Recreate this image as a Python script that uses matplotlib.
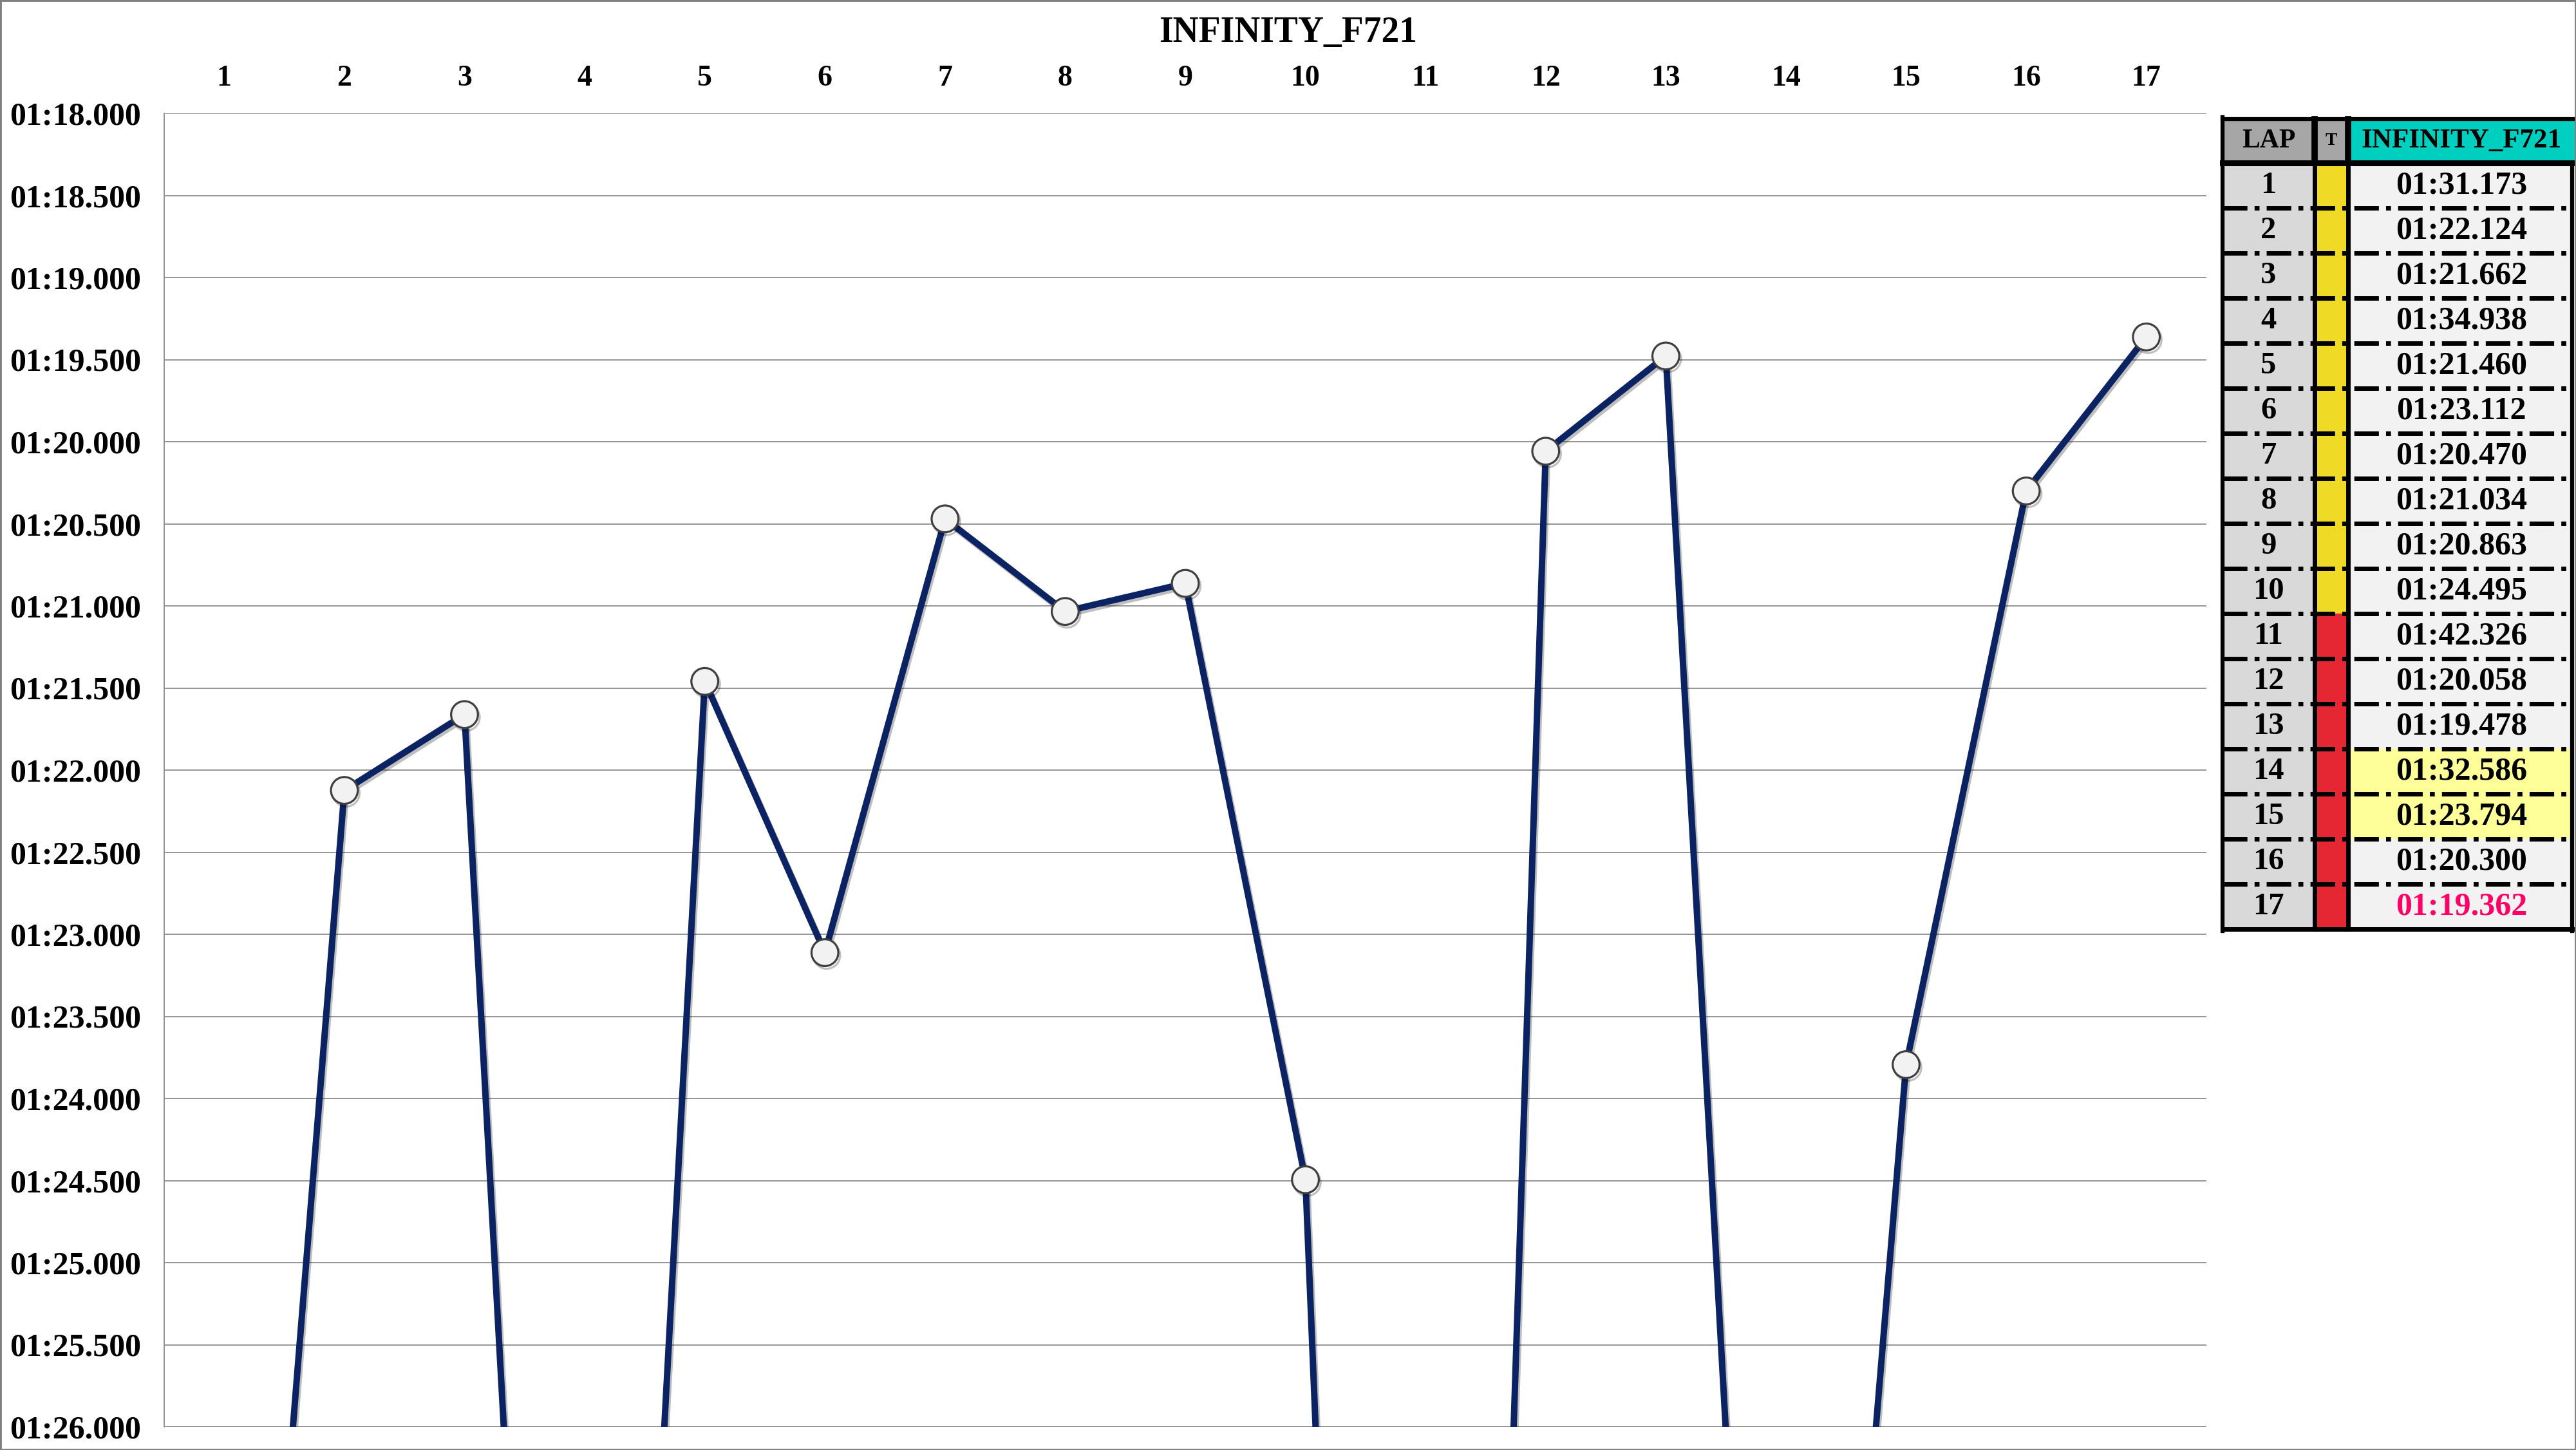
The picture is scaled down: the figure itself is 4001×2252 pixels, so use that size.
import matplotlib
matplotlib.use('Agg')
import matplotlib.pyplot as plt
import matplotlib.patheffects as pe
from matplotlib.patches import Rectangle
from matplotlib.ticker import FuncFormatter, MultipleLocator

# ----------------------------- DATOS -----------------------------

piloto = 'INFINITY_F721'
vueltas = [1, 2, 3, 4, 5, 6, 7, 8, 9, 10, 11, 12, 13, 14, 15, 16, 17]
tiempos = ['01:31.173', '01:22.124', '01:21.662', '01:34.938', '01:21.460',
           '01:23.112', '01:20.470', '01:21.034', '01:20.863', '01:24.495',
           '01:42.326', '01:20.058', '01:19.478', '01:32.586', '01:23.794',
           '01:20.300', '01:19.362']
neumaticos = ['M'] * 10 + ['S'] * 7          # amarillo = medio, rojo = blando
vueltas_marcadas = [14, 15]                  # celdas resaltadas en amarillo claro
mejor_vuelta = 17

colores_neumatico = {'M': '#efdb25', 'S': '#e52733'}


def a_segundos(t):
    m, s = t.split(':')
    return int(m) * 60 + float(s)


def formato_tiempo(v, pos=None):
    m = int(v // 60)
    return f'{m:02d}:{v - 60 * m:06.3f}'


segundos = [a_segundos(t) for t in tiempos]

# ----------------------------- FIGURA -----------------------------

plt.rcParams['font.family'] = ['Liberation Serif', 'DejaVu Serif']
plt.rcParams['font.weight'] = 'bold'

W, H = 4001, 2252
fig = plt.figure(figsize=(W / 100, H / 100), dpi=100)
fig.patch.set_facecolor('white')

# marco gris de toda la imagen
fig.patches.append(Rectangle((0, 0), 1, 1, transform=fig.transFigure, fill=False,
                             edgecolor='#808080', linewidth=3.5))

# area del grafico (en pixeles: x 255-3427, y 176-2216)
ax = fig.add_axes([255 / W, 1 - 2216 / H, (3427 - 255) / W, (2216 - 176) / H])
ax.set_xlim(0.5, 17.5)
ax.set_ylim(86, 78)
ax.yaxis.set_major_locator(MultipleLocator(0.5))
ax.yaxis.set_major_formatter(FuncFormatter(formato_tiempo))
ax.set_xticks(vueltas)
ax.tick_params(axis='x', top=True, labeltop=True, bottom=False, labelbottom=False,
               length=0, pad=24, labelsize=33)
ax.tick_params(axis='y', length=0, pad=26, labelsize=36)
ax.yaxis.grid(True, color='#8c8c8c', linewidth=1.3)
ax.set_axisbelow(True)
for lado in ['top', 'right', 'bottom']:
    ax.spines[lado].set_visible(False)
ax.spines['left'].set_color('#8c8c8c')
ax.spines['left'].set_linewidth(1.3)

sombra = [pe.SimpleLineShadow(offset=(2, -3), alpha=0.25), pe.Normal()]
ax.plot(vueltas, segundos, color='#0b2263', linewidth=7.2, zorder=3,
        solid_joinstyle='round', path_effects=sombra)
ax.plot(vueltas, segundos, linestyle='none', marker='o', markersize=30,
        markerfacecolor='#f2f2f2', markeredgecolor='#3f3f3f', markeredgewidth=2.3,
        zorder=4, path_effects=sombra)

fig.text(0.5, 1 - 51 / H, piloto, ha='center', va='center', fontsize=40, weight='bold')

# ----------------------------- TABLA -----------------------------

tab = fig.add_axes([0, 0, 1, 1])
tab.set_xlim(0, W)
tab.set_ylim(H, 0)
tab.axis('off')

xL, xLT, xTT, xR = 3452, 3595, 3647, 3995
yTop, yHB, fila = 185, 252.5, 70
yBot = yHB + fila * len(vueltas)

# cabecera
tab.add_patch(Rectangle((xL, yTop), xLT - xL, yHB - yTop, color='#a6a6a6'))
tab.add_patch(Rectangle((xLT, yTop), xTT - xLT, yHB - yTop, color='#a6a6a6'))
tab.add_patch(Rectangle((xTT, yTop), W - xTT, yHB - yTop, color='#00cfc0'))
yc = (yTop + yHB) / 2
tab.text((xL + xLT) / 2, yc, 'LAP', ha='center', va='center', fontsize=30, weight='bold')
tab.text((xLT + xTT) / 2, yc, 'T', ha='center', va='center', fontsize=20, weight='bold')
tab.text((xTT + xR) / 2 + 2, yc, piloto, ha='center', va='center', fontsize=31, weight='bold')

# filas
for i, (v, t, n) in enumerate(zip(vueltas, tiempos, neumaticos)):
    y0 = yHB + fila * i
    fondo = '#ffff99' if v in vueltas_marcadas else '#f2f2f2'
    tab.add_patch(Rectangle((xL, y0), xLT - xL, fila, color='#d9d9d9'))
    tab.add_patch(Rectangle((xLT, y0), xTT - xLT, fila, color=colores_neumatico[n]))
    tab.add_patch(Rectangle((xTT, y0), xR - xTT, fila, color=fondo))
    color_txt = '#ff0066' if v == mejor_vuelta else 'black'
    tab.text((xL + xLT) / 2, y0 + fila / 2 + 1, str(v), ha='center', va='center',
             fontsize=35, weight='bold')
    tab.text((xTT + xR) / 2 + 2, y0 + fila / 2 + 1, t, ha='center', va='center',
             fontsize=36, weight='bold', color=color_txt)
    if i > 0:
        tab.plot([xL, xR], [y0, y0], color='black', linewidth=5,
                 dashes=(5.5, 1.6, 1.1, 1.6), solid_capstyle='butt', dash_capstyle='butt')

# bordes negros
tab.plot([xL, xL], [yTop - 3, yBot + 3], color='black', linewidth=4.5)
tab.plot([xL, W], [yTop, yTop], color='black', linewidth=4.5)
tab.plot([xL, W], [yHB, yHB], color='black', linewidth=6.5)
tab.plot([xL, xR], [yBot, yBot], color='black', linewidth=5)
tab.plot([xR, xR], [yHB, yBot + 3], color='black', linewidth=4.5)
for x in [xLT, xTT]:
    tab.plot([x, x], [yTop, yHB], color='black', linewidth=7)
    tab.plot([x, x], [yHB, yBot], color='black', linewidth=5)

fig.savefig('out.png', dpi=100)
